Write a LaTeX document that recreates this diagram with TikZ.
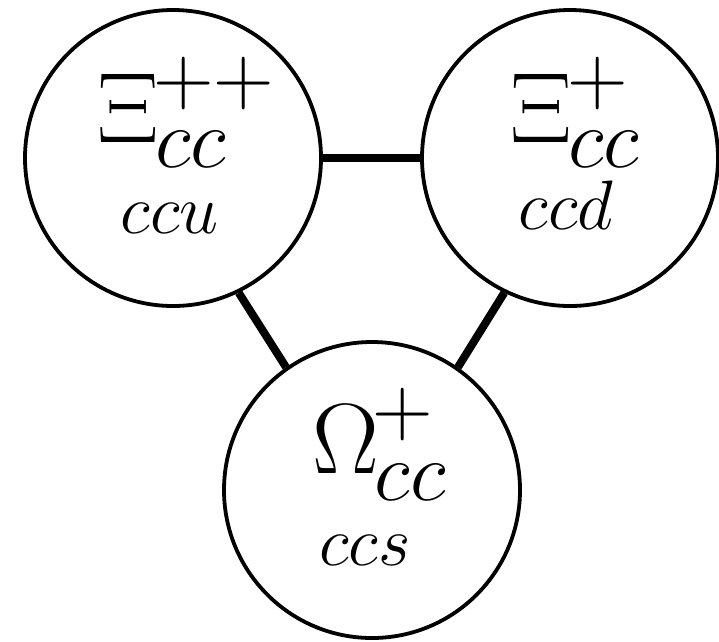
\documentclass[tikz,border=0pt]{standalone}
\usepackage{fix-cm}
\newcommand{\idxfont}{\fontsize{84}{94}\selectfont}
% #1 main symbol, #2 kern to superscript, #3 superscript, #4 raise, #5 kern to subscript, #6 subscript, #7 lower
\newcommand{\partlabel}[7]{$#1$\kern#2\rlap{\idxfont\raisebox{#4}{$#3$}}\kern#5{\idxfont\raisebox{-#7}{$#6$}}}
\begin{document}
\begin{tikzpicture}[x=1pt,y=-1pt,
  ball/.style={circle,draw,line width=3.8pt,minimum size=296pt,inner sep=0pt},
  link/.style={line width=8pt},
  big/.style={inner sep=0pt,anchor=base west,font=\fontsize{100}{110}\selectfont},
  small/.style={inner sep=0pt,anchor=base,font=\fontsize{70}{80}\selectfont}]
\useasboundingbox (0,0) rectangle (719,641);
\node[ball] (L) at (173,158) {};
\node[ball] (R) at (570,158) {};
\node[ball] (B) at (372,490) {};
\draw[link] (L.east) -- (R.west);
\draw[link] (L.-64) -- (B.125);
\draw[link] (R.-116) -- (B.55);
% left
\node[big] (Lt) at (97,142) {\partlabel{\Xi}{-5.7pt}{++}{38pt}{2pt}{cc}{25pt}};
\node[small] (Lq) at (170,233) {$ccu$};
% right
\node[big] (Rt) at (510,142) {\partlabel{\Xi}{-4.7pt}{+}{38pt}{1pt}{cc}{25pt}};
\node[small] (Rq) at (566,229) {$ccd$};
% bottom
\node[big] (Bt) at (312,473) {\partlabel{\Omega}{-6.2pt}{+}{38pt}{2pt}{cc}{27pt}};
\node[small] (Bq) at (365,565) {$ccs$};
\end{tikzpicture}
\end{document}
